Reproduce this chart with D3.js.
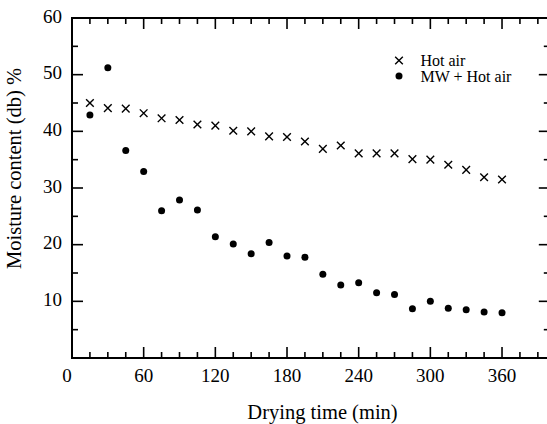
<!DOCTYPE html>
<html>
<head>
<meta charset="utf-8">
<script src="https://cdn.jsdelivr.net/npm/d3@7"></script>
<style>
  body { margin: 0; background: #fff; }
  svg text { font-family: "Liberation Serif", "Times New Roman", serif; fill: #000; }
</style>
</head>
<body>
<script>
// drying time (min)
const times = [15, 30, 45, 60, 75, 90, 105, 120, 135, 150, 165, 180,
  195, 210, 225, 240, 255, 270, 285, 300, 315, 330, 345, 360];
// moisture content (db) %
const hotAir = [45.0, 44.1, 44.0, 43.2, 42.3, 42.0, 41.2, 41.0, 40.1, 40.0, 39.1, 39.0,
  38.2, 36.9, 37.5, 36.1, 36.1, 36.1, 35.1, 35.0, 34.1, 33.2, 31.9, 31.5];
const mwHotAir = [42.9, 51.2, 36.6, 32.9, 26.0, 27.9, 26.1, 21.4, 20.1, 18.4, 20.4, 18.0,
  17.8, 14.8, 12.9, 13.3, 11.5, 11.2, 8.7, 10.0, 8.8, 8.5, 8.1, 8.0];
const xTicks = [0, 60, 120, 180, 240, 300, 360];
const yTicks = [10, 20, 30, 40, 50, 60];
const seriesNames = ["Hot air", "MW + Hot air"];

const w = 547;
const h = 424;
const m = { t: 18, l: 72, b: 66 };
const plotW = 477.8;
const plotH = h - m.t - m.b;
const serif = '"Liberation Serif", "Times New Roman", serif';

const svg = d3.select("body").append("svg").attr("width", w).attr("height", h);
svg.append("rect").attr("width", w).attr("height", h).attr("fill", "#fff");

const xScale = d3.scaleLinear().domain([0, 400]).range([0, plotW]);
const yScale = d3.scaleLinear().domain([0, 60]).range([plotH, 0]);

const g = svg.append("g").attr("transform", `translate(${m.l}, ${m.t})`);

const minorX = d3.range(0, 401, 15).filter((d) => d % 60 !== 0);
const minorY = d3.range(5, 60, 10);

// frame
g.append("rect")
  .attr("width", plotW)
  .attr("height", plotH)
  .attr("fill", "none")
  .attr("stroke", "#000")
  .attr("stroke-width", 2);

// inward ticks on all four sides
const ticks = g.append("g").attr("stroke", "#000").attr("stroke-width", 1.6);
const xTickData = [
  ...xTicks.map((v) => ({ v, len: 11 })),
  ...minorX.map((v) => ({ v, len: 6 })),
];
const yTickData = [
  ...yTicks.map((v) => ({ v, len: 11 })),
  ...minorY.map((v) => ({ v, len: 6 })),
];
ticks.selectAll(".xb")
  .data(xTickData)
  .enter()
  .append("line")
  .attr("x1", (d) => xScale(d.v))
  .attr("x2", (d) => xScale(d.v))
  .attr("y1", plotH)
  .attr("y2", (d) => plotH - d.len);
ticks.selectAll(".xt")
  .data(xTickData)
  .enter()
  .append("line")
  .attr("x1", (d) => xScale(d.v))
  .attr("x2", (d) => xScale(d.v))
  .attr("y1", 0)
  .attr("y2", (d) => d.len);
ticks.selectAll(".yl")
  .data(yTickData)
  .enter()
  .append("line")
  .attr("y1", (d) => yScale(d.v))
  .attr("y2", (d) => yScale(d.v))
  .attr("x1", 0)
  .attr("x2", (d) => d.len);
ticks.selectAll(".yr")
  .data(yTickData)
  .enter()
  .append("line")
  .attr("y1", (d) => yScale(d.v))
  .attr("y2", (d) => yScale(d.v))
  .attr("x1", plotW)
  .attr("x2", (d) => plotW - d.len);

// tick labels
g.selectAll(".xlab")
  .data(xTicks)
  .enter()
  .append("text")
  .attr("x", (d) => xScale(d) + (d === 0 ? -5 : 0))
  .attr("y", plotH + 23.5)
  .attr("text-anchor", "middle")
  .attr("font-family", serif)
  .attr("font-size", 19)
  .text((d) => d);
g.selectAll(".ylab")
  .data(yTicks)
  .enter()
  .append("text")
  .attr("x", -10)
  .attr("y", (d) => yScale(d) + 4.5)
  .attr("text-anchor", "end")
  .attr("font-family", serif)
  .attr("font-size", 19)
  .text((d) => d);

// axis labels
svg.append("text")
  .attr("x", 322.5)
  .attr("y", 419)
  .attr("text-anchor", "middle")
  .attr("font-family", serif)
  .attr("font-size", 20.5)
  .text("Drying time (min)");
svg.append("text")
  .attr("transform", "rotate(-90)")
  .attr("x", -168.5)
  .attr("y", 21)
  .attr("text-anchor", "middle")
  .attr("font-family", serif)
  .attr("font-size", 20.5)
  .text("Moisture content (db) %");

// markers
const cross = d3.symbol().type(d3.symbolX).size(40);

g.selectAll(".hot")
  .data(times)
  .enter()
  .append("path")
  .attr("class", "hot")
  .attr("d", cross)
  .attr("transform", (d, i) => `translate(${xScale(d)}, ${yScale(hotAir[i])})`)
  .attr("fill", "none")
  .attr("stroke", "#000")
  .attr("stroke-width", 1.4);

g.selectAll(".mw")
  .data(times)
  .enter()
  .append("circle")
  .attr("class", "mw")
  .attr("cx", (d) => xScale(d))
  .attr("cy", (d, i) => yScale(mwHotAir[i]))
  .attr("r", 3.5)
  .attr("fill", "#000");

// legend
const legend = svg.append("g").attr("transform", "translate(399, 0)");
legend.append("path")
  .attr("d", cross)
  .attr("transform", "translate(0, 60.5)")
  .attr("fill", "none")
  .attr("stroke", "#000")
  .attr("stroke-width", 1.4);
legend.append("circle").attr("cx", 0).attr("cy", 76).attr("r", 3.5).attr("fill", "#000");
legend.append("text").attr("x", 21.5).attr("y", 65.5).attr("font-family", serif).attr("font-size", 16).text(seriesNames[0]);
legend.append("text").attr("x", 21.5).attr("y", 82).attr("font-family", serif).attr("font-size", 16).text(seriesNames[1]);
</script>
</body>
</html>
